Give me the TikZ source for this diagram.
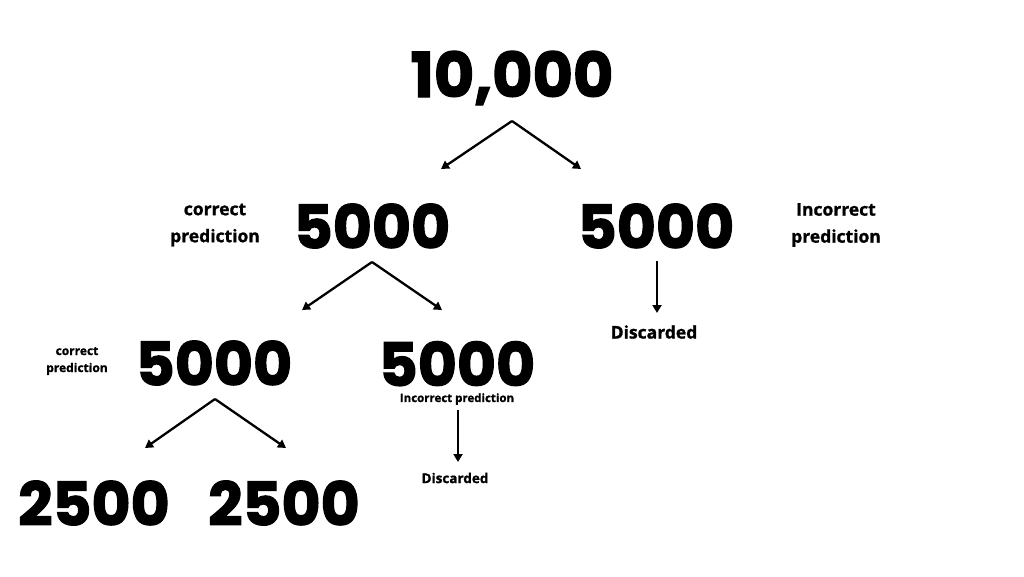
\documentclass[tikz,border=0pt]{standalone}
\usepackage{fontspec}
\setmainfont[BoldFeatures={FakeBold=1.2}]{Open Sans}
\newfontfamily\numfont[BoldFeatures={FakeBold=2}]{Poppins}
\usetikzlibrary{arrows.meta}
\begin{document}
\begin{tikzpicture}[x=1pt,y=-1pt,
  num/.style={font=\numfont\bfseries\fontsize{60}{60}\selectfont, inner sep=0pt, anchor=center},
  lab/.style={font=\bfseries\fontsize{17.5}{27}\selectfont, align=center, inner sep=0pt},
  slab/.style={font=\bfseries\fontsize{11.5}{17}\selectfont, align=center, inner sep=0pt},
  arr/.style={line width=2.3pt, -{Triangle[length=8pt,width=9pt]}}]
\useasboundingbox[fill=white] (0,0) rectangle (1024,576);
% top
\node[num, font=\numfont\bfseries\fontsize{62}{62}\selectfont] (top) at (512,78) {10,000};
\coordinate (t0) at (512,121);
\coordinate (t1) at (441,169);
\coordinate (t2) at (581,169);
\draw[arr] (t0) -- (t1);
\draw[arr] (t0) -- (t2);
% level 1
\node[num] (l1a) at (372,226) {5000};
\node[num] (l1b) at (656,226) {5000};
\node[lab] (c1) at (215,225) {correct\\prediction};
\node[lab] (i1) at (836,225) {Incorrect\\prediction};
\coordinate (a0) at (372,262);
\coordinate (a1) at (302,310);
\coordinate (a2) at (442,310);
\draw[arr] (a0) -- (a1);
\draw[arr] (a0) -- (a2);
\coordinate (b0) at (657,261);
\coordinate (b1) at (657,313);
\draw[arr] (b0) -- (b1);
\node[lab] (d1) at (654,332) {Discarded};
% level 2
\node[num] (l2a) at (214,363) {5000};
\node[num, anchor=base, text depth=0pt] (l2b) at (457,386) {5000};
\node[slab, font=\bfseries\fontsize{12}{17}\selectfont] (c2) at (77,361) {correct\\prediction};
\node[slab] (i2) at (457,399) {Incorrect prediction};
\coordinate (e0) at (458,410);
\coordinate (e1) at (458,462);
\draw[arr] (e0) -- (e1);
\node[slab, font=\bfseries\fontsize{13.5}{14}\selectfont] (d2) at (455,478) {Discarded};
\coordinate (f0) at (215,399);
\coordinate (f1) at (145,448);
\coordinate (f2) at (286,448);
\draw[arr] (f0) -- (f1);
\draw[arr] (f0) -- (f2);
% level 3
\node[num] (l3a) at (94,503) {2500};
\node[num] (l3b) at (284,503) {2500};
\end{tikzpicture}
\end{document}
